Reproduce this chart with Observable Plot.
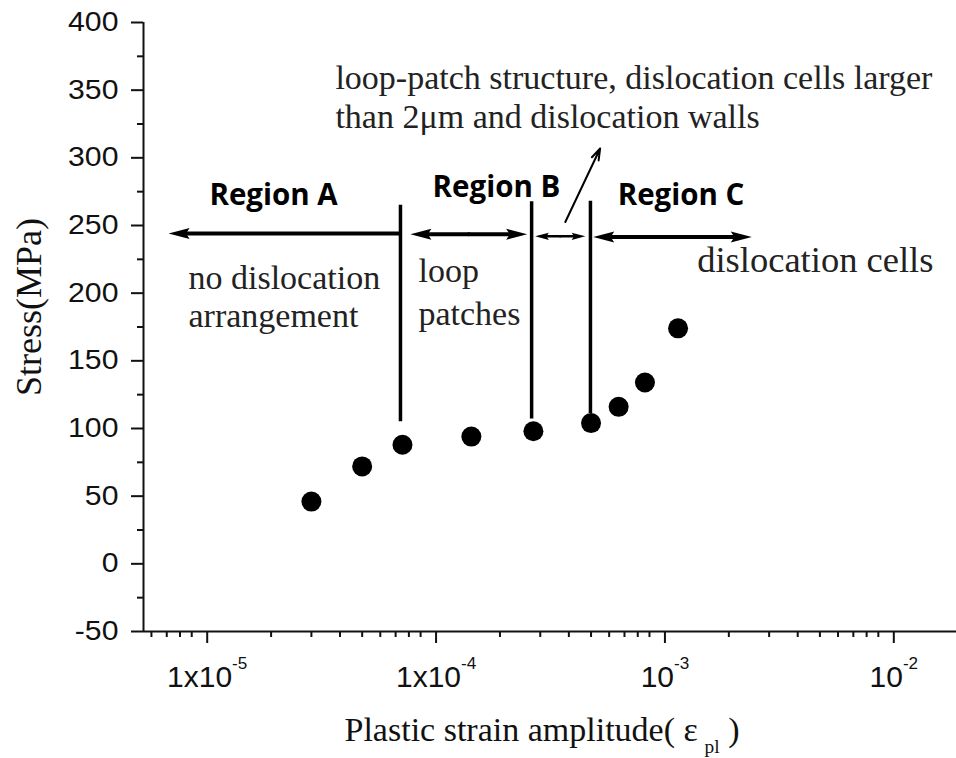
<!DOCTYPE html>
<html><head><meta charset="utf-8">
<script src="https://cdn.jsdelivr.net/npm/d3@7"></script>
<script src="https://cdn.jsdelivr.net/npm/@observablehq/plot@0.6"></script>
<style>
body{margin:0;background:#fff;}
#chart svg{display:block;overflow:visible;background:#fff;}
</style></head><body><div id="chart"></div>
<script>
// ---- data ----
const strain = [3.0e-5, 5.0e-5, 7.5e-5, 1.5e-4, 2.8e-4, 5.0e-4, 6.6e-4, 8.6e-4, 1.2e-3];
const stress = [46, 72, 88, 94, 98, 104, 116, 134, 174];

const xDomain = [5.54e-6, 0.01976];
const yDomain = [-50, 400];
const xTicks = [1e-5, 1e-4, 1e-3, 1e-2];
const xTickLabels = ["1x10^{-5}", "1x10^{-4}", "10^{-3}", "10^{-2}"];
const xMinorTicks = [6e-6, 7e-6, 8e-6, 9e-6,
  2e-5, 3e-5, 4e-5, 5e-5, 6e-5, 7e-5, 8e-5, 9e-5,
  2e-4, 3e-4, 4e-4, 5e-4, 6e-4, 7e-4, 8e-4, 9e-4,
  2e-3, 3e-3, 4e-3, 5e-3, 6e-3, 7e-3, 8e-3, 9e-3];
const yTicks = [-50, 0, 50, 100, 150, 200, 250, 300, 350, 400];
const yMinorTicks = [-25, 25, 75, 125, 175, 225, 275, 325, 375];

// region boundaries (vertical lines)
const boundaryStrain = [7.35e-5, 2.75e-4, 4.97e-4];
const boundaryLow = [105, 107, 111];
const boundaryHigh = [265, 267.5, 268];

// region titles
const regionNames = ["Region A", "Region B", "Region C"];
const regionStrain = [2.05e-5, 1.93e-4, 1.236e-3];
const regionStress = [265, 271, 265];

// horizontal arrows: start, end (tip), level, head also at start?
const arrowStart = [7.3e-5, 8.12e-5, 2.85e-4, 5.11e-4];
const arrowEnd = [7.13e-6, 2.63e-4, 4.72e-4, 2.52e-3];
const arrowLevel = [244, 243.5, 242, 241.5];
const arrowDouble = [false, true, true, true];
const arrowThin = [false, false, true, false];

// pointer line to the upper note
const pointerStrain = [3.86e-4, 5.48e-4];
const pointerStress = [252.6, 306.9];

// serif notes
const noteText = ["no dislocation", "arrangement", "loop", "patches",
  "loop-patch structure, dislocation cells larger", "than 2\u03bcm and dislocation walls"];
const noteStrain = [8.71e-6, 8.71e-6, 8.81e-5, 8.81e-5, 3.82e-5, 3.82e-5];
const noteStress = [203.4, 175.0, 208.3, 176.3, 351.2, 321.7];
const cellNote = "dislocation cells";
const cellNoteStrain = 1.455e-3;
const cellNoteStress = 215.7;

const xLabel = "Plastic strain amplitude( \u03b5\u2009_{pl} )";
const yLabel = "Stress(MPa)";

// ---- build tables ----
const points = strain.map((s, i) => ({x: s, y: stress[i]}));
const bounds = boundaryStrain.map((s, i) => ({x: s, y1: boundaryLow[i], y2: boundaryHigh[i]}));
const regions = regionNames.map((t, i) => ({t, x: regionStrain[i], y: regionStress[i]}));
const shafts = [], heads = [];
arrowStart.forEach((s, i) => {
  const e = arrowEnd[i], y = arrowLevel[i], thin = arrowThin[i];
  if (arrowDouble[i]) {
    const mid = Math.sqrt(s * e);
    shafts.push({x1: mid, x2: e, y, thin}, {x1: mid, x2: s, y, thin});
    heads.push({x: e, y, rot: e > s ? 0 : 180, thin}, {x: s, y, rot: s > e ? 0 : 180, thin});
  } else {
    shafts.push({x1: s, x2: e, y, thin});
    heads.push({x: e, y, rot: e > s ? 0 : 180, thin});
  }
});
const notes = noteText.map((t, i) => ({t, x: noteStrain[i], y: noteStress[i]}));

// filled, slightly barbed arrow head pointing to +x with its tip at the origin
const headSymbol = {
  draw(ctx, size) {
    const r = Math.sqrt(size / Math.PI);
    ctx.moveTo(0, 0);
    ctx.lineTo(-2.1 * r, -0.55 * r);
    ctx.lineTo(-1.75 * r, 0);
    ctx.lineTo(-2.1 * r, 0.55 * r);
    ctx.closePath();
  }
};

const SANS = "'Liberation Sans', Arial, sans-serif";
const SERIF = "'Liberation Serif', 'Times New Roman', serif";
const BOLD = "'Open Sans', 'Noto Sans', sans-serif";
const INK = "#111";

const chart = Plot.plot({
  width: 956,
  height: 758,
  marginTop: 22,
  marginBottom: 127,
  marginLeft: 143,
  marginRight: 0,
  x: {type: "log", domain: xDomain, label: null},
  y: {domain: yDomain, label: null},
  marks: [
    // axis lines
    Plot.ruleX([xDomain[0]], {stroke: INK, strokeWidth: 2}),
    Plot.ruleY([yDomain[0]], {stroke: INK, strokeWidth: 2}),
    // axes
    Plot.axisY({ticks: yTicks, tickSize: 12, tickPadding: 13, strokeWidth: 2, stroke: INK,
      fontSize: 27, fontFamily: SANS, fill: INK, label: null, tickFormat: d => String(d)}),
    Plot.axisY({ticks: yMinorTicks, tickSize: 6, strokeWidth: 2, stroke: INK, tickFormat: () => "", label: null}),
    Plot.axisX({ticks: xTicks, tickSize: 12, tickPadding: 22, strokeWidth: 2, stroke: INK,
      fontSize: 30, fontFamily: SANS, fill: INK, label: null, dx: 5,
      tickFormat: d => xTickLabels[xTicks.findIndex(v => Math.abs(v - d) / v < 1e-6)]}),
    Plot.axisX({ticks: xMinorTicks, tickSize: 6, strokeWidth: 2, stroke: INK, tickFormat: () => "", label: null}),
    // axis titles
    Plot.text([xLabel], {text: d => d, frameAnchor: "bottom", lineAnchor: "bottom", textAnchor: "middle",
      dx: -8, dy: 109, fontSize: 34, fontFamily: SERIF, fill: INK}),
    Plot.text([yLabel], {text: d => d, frameAnchor: "left", rotate: -90, textAnchor: "middle",
      lineAnchor: "middle", dx: -114, dy: -20, fontSize: 36, fontFamily: SERIF, fill: INK}),
    // region boundaries
    Plot.ruleX(bounds, {x: "x", y1: "y1", y2: "y2", stroke: "#000", strokeWidth: 3.5}),
    // arrow shafts (stopping short of the tips) and filled heads
    Plot.arrow(shafts.filter(a => !a.thin), {x1: "x1", x2: "x2", y1: "y", y2: "y", stroke: "#000",
      strokeWidth: 4, headLength: 0, insetEnd: 12}),
    Plot.arrow(shafts.filter(a => a.thin), {x1: "x1", x2: "x2", y1: "y", y2: "y", stroke: "#000",
      strokeWidth: 2.5, headLength: 0, insetEnd: 8}),
    Plot.dot(heads.filter(h => !h.thin), {x: "x", y: "y", rotate: "rot", r: 10, symbol: headSymbol,
      fill: "#000", stroke: "none"}),
    Plot.dot(heads.filter(h => h.thin), {x: "x", y: "y", rotate: "rot", r: 6.5, symbol: headSymbol,
      fill: "#000", stroke: "none"}),
    Plot.arrow([0], {x1: () => pointerStrain[0], x2: () => pointerStrain[1],
      y1: () => pointerStress[0], y2: () => pointerStress[1], stroke: "#000", strokeWidth: 2,
      headLength: 9, headAngle: 36}),
    // data
    Plot.dot(points, {x: "x", y: "y", r: 10, fill: "#000", stroke: "none"}),
    // labels
    Plot.text(regions, {x: "x", y: "y", text: "t", lineAnchor: "bottom", textAnchor: "middle",
      fontSize: 29.5, fontWeight: 700, fontFamily: BOLD, fill: "#000"}),
    Plot.text(notes, {x: "x", y: "y", text: "t", lineAnchor: "bottom", textAnchor: "start",
      fontSize: 34, fontFamily: SERIF, fill: "#222"}),
    Plot.text([cellNote], {x: () => cellNoteStrain, y: () => cellNoteStress, text: d => d,
      lineAnchor: "bottom", textAnchor: "start", fontSize: 36.5, fontFamily: SERIF, fill: "#222"})
  ]
});

// rich text: ^{...} superscripts and _{...} subscripts
const NS = "http://www.w3.org/2000/svg";
chart.querySelectorAll("text").forEach(t => {
  const s = t.textContent;
  if (!/[\^_]\{/.test(s)) return;
  const fsAttr = t.closest("[font-size]")?.getAttribute("font-size");
  const base = parseFloat(fsAttr) || 20;
  t.textContent = "";
  const re = /([\^_])\{([^}]*)\}/g;
  let last = 0, m, pending = 0;
  const add = (str, dy, size) => {
    const ts = document.createElementNS(NS, "tspan");
    if (dy) ts.setAttribute("dy", dy);
    if (size) ts.setAttribute("font-size", size);
    ts.textContent = str;
    t.appendChild(ts);
  };
  while ((m = re.exec(s))) {
    if (m.index > last) { add(s.slice(last, m.index), pending); pending = 0; }
    const sup = m[1] === "^";
    const shift = sup ? -0.6 * base : 0.38 * base;
    add(m[2], shift + pending, 0.57 * base);
    pending = -shift;
    last = re.lastIndex;
  }
  if (last < s.length) add(s.slice(last), pending);
});
// y tick labels are drawn a bit wider in the original
chart.querySelectorAll('g[aria-label="y-axis tick label"] text').forEach(t => {
  t.setAttribute("transform", (t.getAttribute("transform") || "") + " scale(1.12,1)");
});

document.getElementById("chart").appendChild(chart);
</script>
</body></html>
